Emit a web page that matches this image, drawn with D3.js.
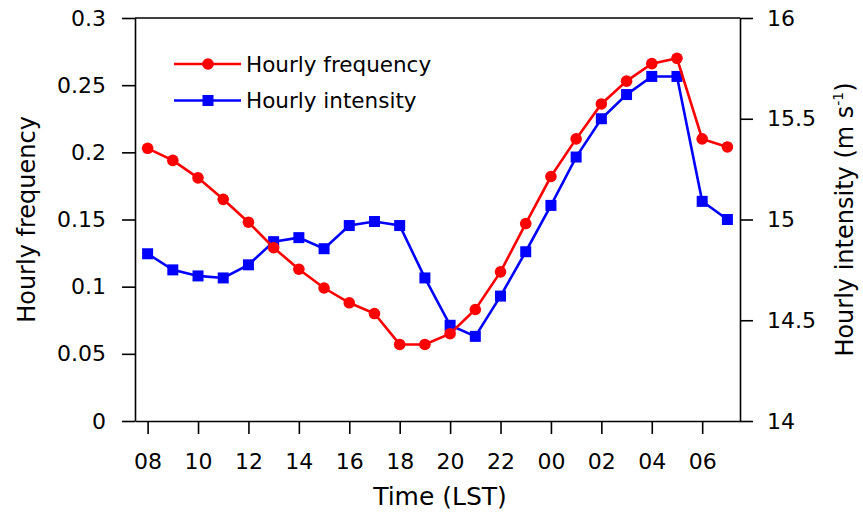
<!DOCTYPE html>
<html>
<head>
<meta charset="utf-8">
<script src="https://cdn.jsdelivr.net/npm/d3@7"></script>
<style>
  body { margin:0; background:#fff }
  text { font-family:"DejaVu Sans", "Liberation Sans", Arial, sans-serif; fill:#000 }
</style>
</head>
<body>
<div id="chart"></div>
<script>
var hours = ['08','09','10','11','12','13','14','15','16','17','18','19',
             '20','21','22','23','00','01','02','03','04','05','06','07']
var tickHours = ['08','10','12','14','16','18','20','22','00','02','04','06']
var frequency = [0.203, 0.194, 0.181, 0.165, 0.148, 0.129, 0.113, 0.099, 0.088, 0.080, 0.057, 0.057,
                 0.065, 0.083, 0.111, 0.147, 0.182, 0.210, 0.236, 0.253, 0.266, 0.270, 0.210, 0.204]
var intensity = [14.83, 14.75, 14.72, 14.71, 14.775, 14.89, 14.91, 14.855, 14.97, 14.99, 14.97, 14.71,
                 14.475, 14.42, 14.62, 14.84, 15.07, 15.31, 15.50, 15.62, 15.71, 15.71, 15.09, 15.00]
var freqTicks = [0, 0.05, 0.1, 0.15, 0.2, 0.25, 0.3]
var intTicks = [14, 14.5, 15, 15.5, 16]

var w = 863
var h = 512
var m = { top:18, right:123, bottom:91, left:135 }
var red = '#ff0000'
var blue = '#0000ff'

var svg = d3.select('#chart').append('svg')
    .attr('width', w)
    .attr('height', h)

var x = d3.scaleLinear()
    .domain([-0.5, hours.length - 0.5])
    .range([m.left, w - m.right])

var yL = d3.scaleLinear()
    .domain([0, 0.3])
    .range([h - m.bottom, m.top])

var yR = d3.scaleLinear()
    .domain([14, 16])
    .range([h - m.bottom, m.top])

var fmtL = d=> d === 0 ? '0' : String(d)

var xAxis = d3.axisBottom(x)
    .tickValues(tickHours.map(t=> hours.indexOf(t)))
    .tickFormat(i=> hours[i])
    .tickSize(13).tickSizeOuter(0).tickPadding(19)
var yAxisL = d3.axisLeft(yL).tickValues(freqTicks).tickFormat(fmtL)
    .tickSize(13).tickSizeOuter(0).tickPadding(16)
var yAxisR = d3.axisRight(yR).tickValues(intTicks).tickFormat(d=> String(d))
    .tickSize(13).tickSizeOuter(0).tickPadding(14)

function styleAxis(g) {
    g.selectAll('path, line').attr('stroke', '#000').attr('stroke-width', 1.6)
    g.selectAll('text').attr('font-size', 22).attr('fill', '#000')
    g.attr('font-family', null)
}

svg.append('g')
    .attr('transform', 'translate(0,' + (h - m.bottom) + ')')
    .call(xAxis).call(styleAxis)
svg.append('g')
    .attr('transform', 'translate(' + m.left + ',0)')
    .call(yAxisL).call(styleAxis)
svg.append('g')
    .attr('transform', 'translate(' + (w - m.right) + ',0)')
    .call(yAxisR).call(styleAxis)

// top border
svg.append('line')
    .attr('x1', m.left).attr('x2', w - m.right)
    .attr('y1', m.top).attr('y2', m.top)
    .attr('stroke', '#000').attr('stroke-width', 1.6)

// series
var lineF = d3.line().x((d, i)=> x(i)).y(d=> yL(d))
var lineI = d3.line().x((d, i)=> x(i)).y(d=> yR(d))

svg.append('path').datum(intensity)
    .attr('d', lineI).attr('fill', 'none')
    .attr('stroke', blue).attr('stroke-width', 2.6)
svg.append('g').selectAll('rect').data(intensity).enter().append('rect')
    .attr('x', (d, i)=> x(i) - 5.5).attr('y', d=> yR(d) - 5.5)
    .attr('width', 11).attr('height', 11)
    .attr('fill', blue)

svg.append('path').datum(frequency)
    .attr('d', lineF).attr('fill', 'none')
    .attr('stroke', red).attr('stroke-width', 2.6)
svg.append('g').selectAll('circle').data(frequency).enter().append('circle')
    .attr('cx', (d, i)=> x(i)).attr('cy', d=> yL(d))
    .attr('r', 5.8)
    .attr('fill', red)

// legend
var legend = [
    { label:'Hourly frequency', color:red, shape:'circle' },
    { label:'Hourly intensity', color:blue, shape:'square' }
]
var lg = svg.append('g').attr('transform', 'translate(174,64)')
legend.forEach(function(d, i) {
    var g = lg.append('g').attr('transform', 'translate(0,' + (i * 36.5) + ')')
    g.append('line').attr('x1', 0).attr('x2', 67)
        .attr('stroke', d.color).attr('stroke-width', 2.6)
    if (d.shape === 'circle')
        g.append('circle').attr('cx', 34).attr('r', 5.8).attr('fill', d.color)
    else
        g.append('rect').attr('x', 28.5).attr('y', -5.5).attr('width', 11).attr('height', 11).attr('fill', d.color)
    g.append('text').attr('x', 72).attr('y', 7.5).attr('font-size', 21.5).text(d.label)
})

// axis titles
svg.append('text')
    .attr('transform', 'translate(35,' + ((m.top + h - m.bottom) / 2) + ') rotate(-90)')
    .attr('text-anchor', 'middle').attr('font-size', 24)
    .text('Hourly frequency')

var rt = svg.append('text')
    .attr('transform', 'translate(853,' + ((m.top + h - m.bottom) / 2) + ') rotate(-90)')
    .attr('text-anchor', 'middle').attr('font-size', 24)
rt.append('tspan').text('Hourly intensity (m s')
rt.append('tspan').attr('font-size', 14).attr('dy', -10).text('-1')
rt.append('tspan').attr('dy', 10).text(')')

svg.append('text')
    .attr('x', 440).attr('y', 505)
    .attr('text-anchor', 'middle').attr('font-size', 25)
    .text('Time (LST)')
</script>
</body>
</html>
